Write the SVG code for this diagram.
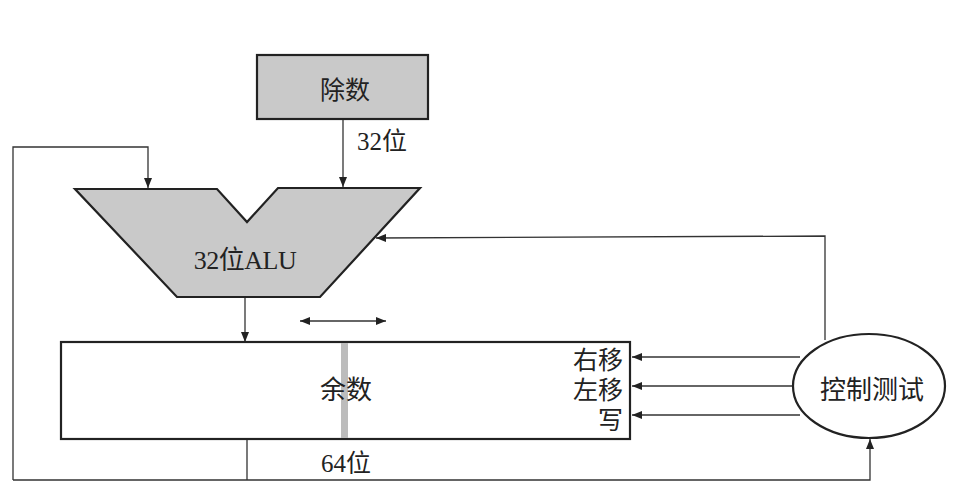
<svg xmlns="http://www.w3.org/2000/svg" width="956" height="487" viewBox="0 0 956 487">
<defs>
<marker id="ah" viewBox="0 0 10 8" refX="10" refY="4" markerWidth="10" markerHeight="8" markerUnits="userSpaceOnUse" orient="auto-start-reverse">
<path d="M0,0 L10,4 L0,8 Z" fill="#222"/>
</marker>
</defs>
<style>
.shape{stroke:#222;stroke-width:2.2;}
.gray{fill:#c9c9c9;}
.white{fill:#fff;}
.conn{fill:none;stroke:#333;stroke-width:1.3;}
.t{font-family:"Liberation Serif","Noto Sans CJK SC",serif;fill:#222;}
</style>
<rect width="956" height="487" fill="#fff"/>
<g id="connectors">
<path class="conn" d="M343,119 L343,187" marker-end="url(#ah)"/>
<path class="conn" d="M247,439 L247,480 M13,480 L870,480 L870,439" marker-end="url(#ah)"/>
<path class="conn" d="M13,480 L13,147 L148,147 L148,188" marker-end="url(#ah)"/>
<path class="conn" d="M825,340 L825,236 L376,238" marker-end="url(#ah)"/>
<path class="conn" d="M245,298 L245,342" marker-end="url(#ah)"/>
<path class="conn" d="M300,321 L386,321" marker-start="url(#ah)" marker-end="url(#ah)"/>
<path class="conn" d="M800,357 L632,357" marker-end="url(#ah)"/>
<path class="conn" d="M793,386 L632,386" marker-end="url(#ah)"/>
<path class="conn" d="M800,415 L632,415" marker-end="url(#ah)"/>
</g>
<g id="divisor">
<rect class="shape gray" x="257" y="55" width="171" height="64"/>
<text class="t" x="345" y="99" font-size="25" text-anchor="middle">除数</text>
</g>
<text class="t" x="357" y="150" font-size="25">32位</text>
<g id="alu">
<path class="shape gray" d="M75,189 L217,189 L247,222 L278,188 L420,188 L320,297 L177,297 Z"/>
<text class="t" x="245" y="269" font-size="26" text-anchor="middle" letter-spacing="-0.5">32位ALU</text>
</g>
<g id="remainder">
<rect class="shape white" x="61" y="342" width="569" height="97"/>
<rect x="341" y="343" width="7" height="95" fill="#bcbcbc"/>
<text class="t" x="346" y="399" font-size="26" text-anchor="middle">余数</text>
<text class="t" x="623" y="369" font-size="25" text-anchor="end">右移</text>
<text class="t" x="623" y="399" font-size="25" text-anchor="end">左移</text>
<text class="t" x="623" y="429" font-size="25" text-anchor="end">写</text>
</g>
<text class="t" x="346" y="472" font-size="25" text-anchor="middle">64位</text>
<g id="control">
<ellipse class="shape white" cx="869" cy="386" rx="76" ry="52"/>
<text class="t" x="872" y="399" font-size="26" text-anchor="middle">控制测试</text>
</g>
</svg>
